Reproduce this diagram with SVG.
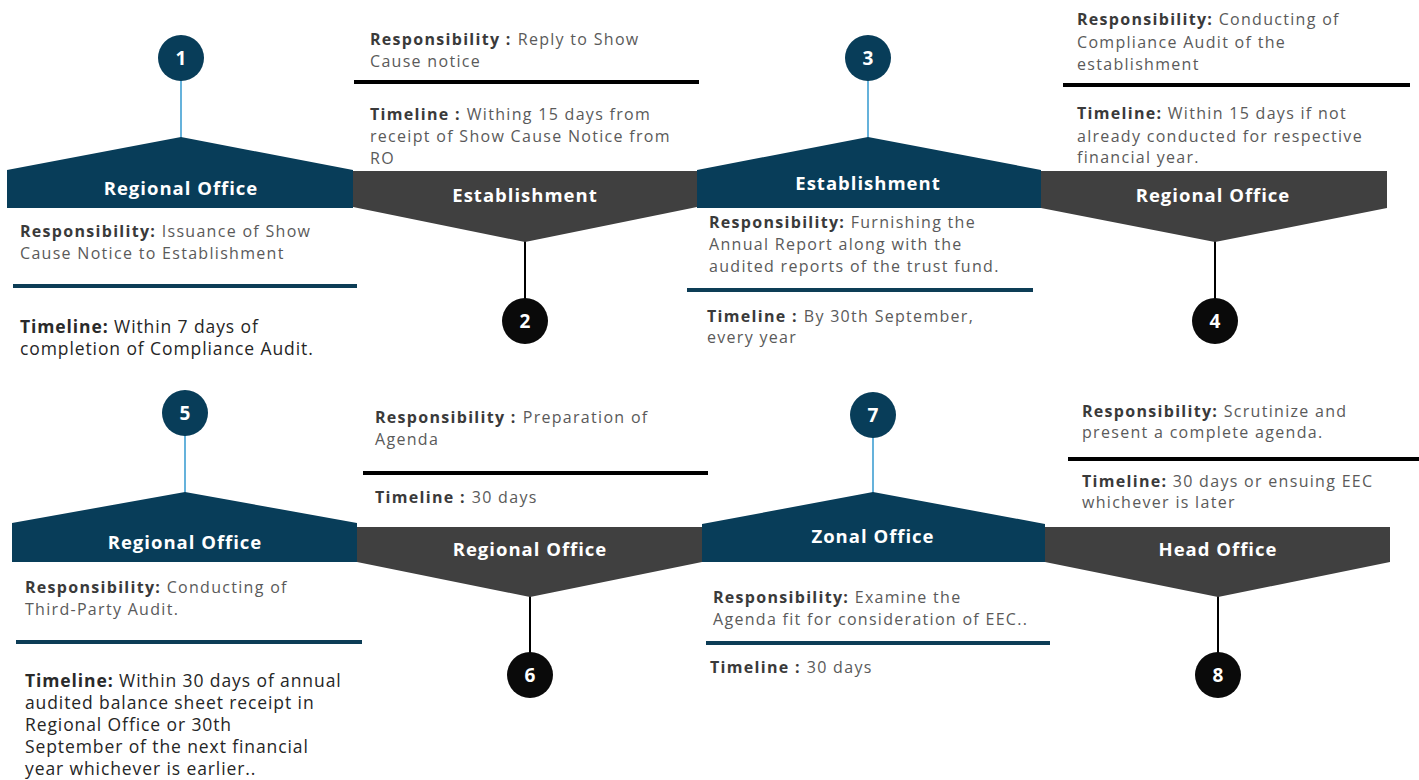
<svg xmlns="http://www.w3.org/2000/svg" width="1419" height="780" viewBox="0 0 1419 780">
  <style>
    .up { fill: #083d59; }
    .down { fill: #404040; }
    .cb { fill: #083d59; }
    .ck { fill: #0a0a0a; }
    .num { font-family: "Open Sans", "Liberation Sans", sans-serif; font-weight: 700; font-size: 19px; fill: #ffffff; text-anchor: middle; }
    .lbl { font-family: "Open Sans", "Liberation Sans", sans-serif; font-weight: 700; font-size: 18.5px; letter-spacing: 1px; fill: #ffffff; text-anchor: middle; }
    .txt { font-family: "Open Sans", "Liberation Sans", sans-serif; font-size: 16px; letter-spacing: 1.3px; fill: #5a5a5a; }
    .big { font-family: "Open Sans", "Liberation Sans", sans-serif; font-size: 17.5px; letter-spacing: 0.9px; fill: #262626; }
    .b { font-weight: 700; fill: #3a3a3a; }
    .big .b { fill: #2a2a2a; }
    .rule-n { stroke: #0d3d56; stroke-width: 4; }
    .rule-k { stroke: #000000; stroke-width: 4; }
    .lnk-b { stroke: #3f9fd2; stroke-width: 1.6; fill: none; }
    .lnk-k { stroke: #000000; stroke-width: 2; fill: none; }
  </style>

  <!-- connectors: stems joining number badges to the banners -->
  <g id="connectors">
    <line class="lnk-b" x1="181" y1="80" x2="181" y2="138"/>
    <line class="lnk-k" x1="525" y1="241" x2="525" y2="299"/>
    <line class="lnk-b" x1="868" y1="80" x2="868" y2="138"/>
    <line class="lnk-k" x1="1215" y1="241" x2="1215" y2="299"/>
    <line class="lnk-b" x1="185" y1="435" x2="185" y2="493"/>
    <line class="lnk-k" x1="530" y1="596" x2="530" y2="653"/>
    <line class="lnk-b" x1="873" y1="437" x2="873" y2="493"/>
    <line class="lnk-k" x1="1218" y1="596" x2="1218" y2="653"/>
  </g>

  <!-- step 1 -->
  <g id="step1">
    <polygon class="up" points="7,170 181,137 353,170 353,208 7,208"/>
    <text class="lbl" x="181" y="195">Regional Office</text>
    <circle class="cb" cx="181" cy="58" r="23"/>
    <text class="num" x="181" y="65">1</text>
    <text class="txt" x="20" y="237"><tspan class="b">Responsibility:</tspan> Issuance of Show</text>
    <text class="txt" x="20" y="259">Cause Notice to Establishment</text>
    <line class="rule-n" x1="13" y1="286" x2="357" y2="286"/>
    <text class="big" x="20" y="333"><tspan class="b">Timeline:</tspan> Within 7 days of</text>
    <text class="big" x="20" y="355">completion of Compliance Audit.</text>
  </g>

  <!-- step 2 -->
  <g id="step2">
    <polygon class="down" points="353,171 697,171 697,207 525,242 353,207"/>
    <text class="lbl" x="525" y="202">Establishment</text>
    <circle class="ck" cx="525" cy="321" r="23"/>
    <text class="num" x="525" y="328">2</text>
    <text class="txt" x="370" y="45"><tspan class="b">Responsibility :</tspan><tspan dx="6">Reply to Show</tspan></text>
    <text class="txt" x="370" y="67">Cause notice</text>
    <line class="rule-k" x1="354" y1="82" x2="699" y2="82"/>
    <text class="txt" x="370" y="120"><tspan class="b">Timeline :</tspan><tspan dx="6">Withing 15 days from</tspan></text>
    <text class="txt" x="370" y="142">receipt of Show Cause Notice from</text>
    <text class="txt" x="370" y="164">RO</text>
  </g>

  <!-- step 3 -->
  <g id="step3">
    <polygon class="up" points="697,170 868,137 1041,170 1041,208 697,208"/>
    <text class="lbl" x="868" y="190">Establishment</text>
    <circle class="cb" cx="868" cy="58" r="23"/>
    <text class="num" x="868" y="65">3</text>
    <text class="txt" x="709" y="228"><tspan class="b">Responsibility:</tspan> Furnishing the</text>
    <text class="txt" x="709" y="250">Annual Report along with the</text>
    <text class="txt" x="709" y="272">audited reports of the trust fund.</text>
    <line class="rule-n" x1="687" y1="290" x2="1033" y2="290"/>
    <text class="txt" x="707" y="322"><tspan class="b">Timeline :</tspan><tspan dx="6">By 30th September,</tspan></text>
    <text class="txt" x="707" y="343">every year</text>
  </g>

  <!-- step 4 -->
  <g id="step4">
    <polygon class="down" points="1041,171 1387,171 1387,208 1215,242 1041,208"/>
    <text class="lbl" x="1213" y="202">Regional Office</text>
    <circle class="ck" cx="1215" cy="321" r="23"/>
    <text class="num" x="1215" y="328">4</text>
    <text class="txt" x="1077" y="25"><tspan class="b">Responsibility:</tspan> Conducting of</text>
    <text class="txt" x="1077" y="48">Compliance Audit of the</text>
    <text class="txt" x="1077" y="70">establishment</text>
    <line class="rule-k" x1="1063" y1="85" x2="1410" y2="85"/>
    <text class="txt" x="1077" y="119"><tspan class="b">Timeline:</tspan> Within 15 days if not</text>
    <text class="txt" x="1077" y="142">already conducted for respective</text>
    <text class="txt" x="1077" y="163">financial year.</text>
  </g>

  <!-- step 5 -->
  <g id="step5">
    <polygon class="up" points="12,523 185,492 357,523 357,562 12,562"/>
    <text class="lbl" x="185" y="549">Regional Office</text>
    <circle class="cb" cx="185" cy="413" r="23"/>
    <text class="num" x="185" y="420">5</text>
    <text class="txt" x="25" y="593"><tspan class="b">Responsibility:</tspan> Conducting of</text>
    <text class="txt" x="25" y="615">Third-Party Audit.</text>
    <line class="rule-n" x1="16" y1="642" x2="362" y2="642"/>
    <text class="big" x="25" y="687"><tspan class="b">Timeline:</tspan> Within 30 days of annual</text>
    <text class="big" x="25" y="709">audited balance sheet receipt in</text>
    <text class="big" x="25" y="731">Regional Office or 30th</text>
    <text class="big" x="25" y="753">September of the next financial</text>
    <text class="big" x="25" y="775">year whichever is earlier..</text>
  </g>

  <!-- step 6 -->
  <g id="step6">
    <polygon class="down" points="357,527 702,527 702,562 530,597 357,562"/>
    <text class="lbl" x="530" y="556">Regional Office</text>
    <circle class="ck" cx="530" cy="675" r="23"/>
    <text class="num" x="530" y="682">6</text>
    <text class="txt" x="375" y="423"><tspan class="b">Responsibility :</tspan><tspan dx="6">Preparation of</tspan></text>
    <text class="txt" x="375" y="445">Agenda</text>
    <line class="rule-k" x1="363" y1="473" x2="708" y2="473"/>
    <text class="txt" x="375" y="503"><tspan class="b">Timeline :</tspan><tspan dx="6">30 days</tspan></text>
  </g>

  <!-- step 7 -->
  <g id="step7">
    <polygon class="up" points="702,524 873,492 1045,524 1045,562 702,562"/>
    <text class="lbl" x="873" y="543">Zonal Office</text>
    <circle class="cb" cx="873" cy="415" r="23"/>
    <text class="num" x="873" y="422">7</text>
    <text class="txt" x="713" y="603"><tspan class="b">Responsibility:</tspan> Examine the</text>
    <text class="txt" x="713" y="625">Agenda fit for consideration of EEC..</text>
    <line class="rule-n" x1="706" y1="643" x2="1050" y2="643"/>
    <text class="txt" x="710" y="673"><tspan class="b">Timeline :</tspan><tspan dx="6">30 days</tspan></text>
  </g>

  <!-- step 8 -->
  <g id="step8">
    <polygon class="down" points="1045,527 1390,527 1390,562 1218,597 1045,562"/>
    <text class="lbl" x="1218" y="556">Head Office</text>
    <circle class="ck" cx="1218" cy="675" r="23"/>
    <text class="num" x="1218" y="682">8</text>
    <text class="txt" x="1082" y="417"><tspan class="b">Responsibility:</tspan> Scrutinize and</text>
    <text class="txt" x="1082" y="438">present a complete agenda.</text>
    <line class="rule-k" x1="1068" y1="459" x2="1419" y2="459"/>
    <text class="txt" x="1082" y="487"><tspan class="b">Timeline:</tspan> 30 days or ensuing EEC</text>
    <text class="txt" x="1082" y="508">whichever is later</text>
  </g>
</svg>
